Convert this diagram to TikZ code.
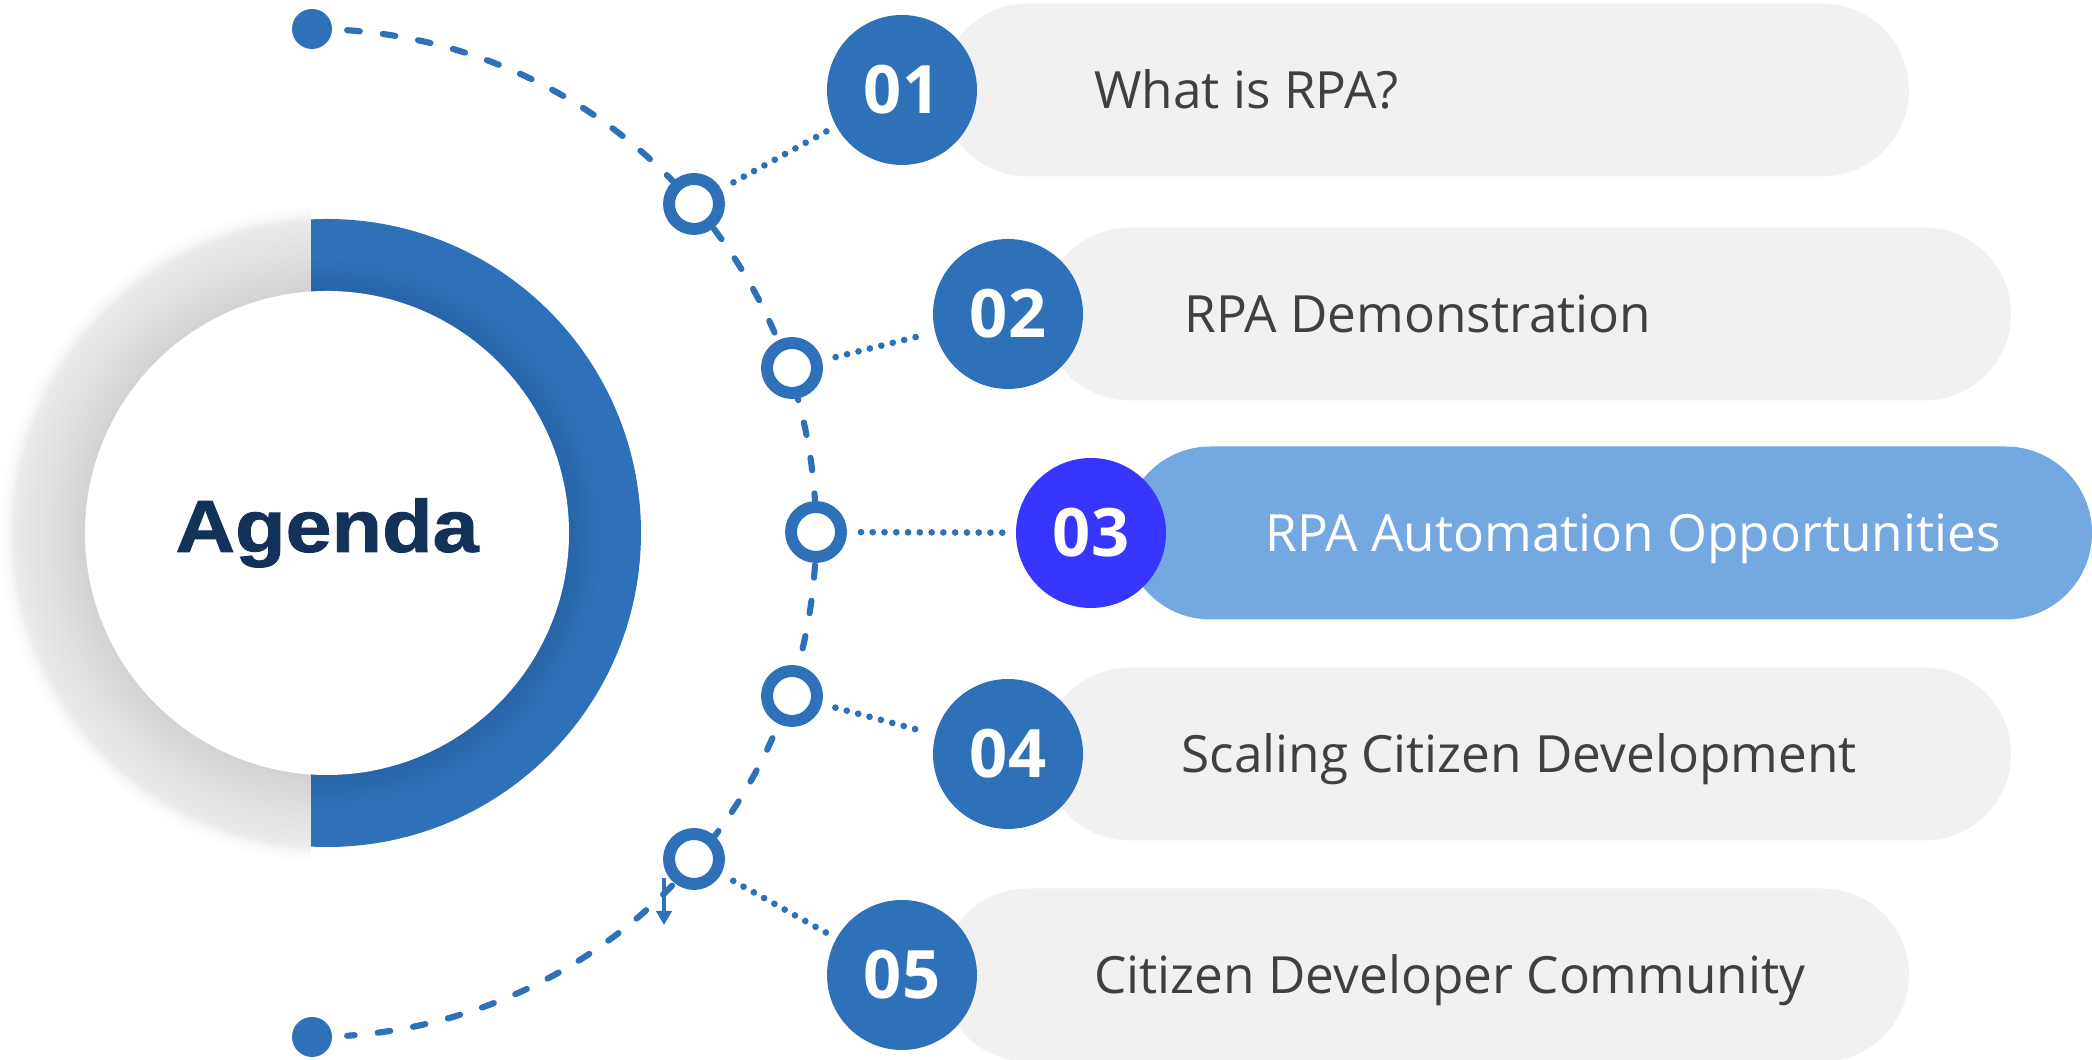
\documentclass[tikz,border=0pt]{standalone}
\usepackage{fontspec}
\setmainfont{Open Sans}
\newfontfamily\headfont[FakeStretch=1.12, BoldFeatures={FakeBold=1.2}]{Liberation Sans}
\usepackage{tikz}
\usetikzlibrary{calc, arrows.meta, positioning}
\definecolor{mainBlue}{HTML}{2E71B8}
\definecolor{deepBlue}{HTML}{2864A8}
\definecolor{hiBlue}{HTML}{3636FF}
\definecolor{paleBlue}{HTML}{74A8E0}
\definecolor{pillGray}{HTML}{F1F1F1}
\definecolor{textGray}{HTML}{404040}
\definecolor{navy}{HTML}{12325A}
\definecolor{shadeDark}{HTML}{D2D2D2}
\definecolor{shadeLight}{HTML}{EBEBEB}
\definecolor{shadeFaint}{HTML}{F8F8F8}

% shadings fit the path box into their middle 50bp square
\pgfdeclareradialshading{ringgray}{\pgfpoint{0bp}{0bp}}{color(0bp)=(shadeDark); color(18.3bp)=(shadeDark); color(23.7bp)=(shadeLight); color(24.2bp)=(shadeFaint); color(25bp)=(white); color(50bp)=(white)}
\pgfdeclareradialshading{ringblue}{\pgfpoint{0bp}{0bp}}{color(0bp)=(deepBlue); color(19.3bp)=(deepBlue); color(22bp)=(mainBlue); color(25bp)=(mainBlue); color(50bp)=(mainBlue)}

\begin{document}
\begin{tikzpicture}[>=Stealth,
    ring/.style={circle, draw=mainBlue, line width=3.4pt, fill=white, minimum size=0.5cm, inner sep=0pt},
    num/.style={circle, fill=mainBlue, minimum size=1.5cm, inner sep=0pt, text=white, font=\fontsize{19}{19}\selectfont\bfseries, text height=13.6pt, text depth=0pt},
    pill/.style={rectangle, rounded corners=0.865cm, minimum width=9.68cm, minimum height=1.73cm, inner sep=0pt, fill=pillGray},
    itemtext/.style={inner sep=0pt, text=textGray, font=\fontsize{14.6}{14.6}\selectfont, text height=10.4pt, text depth=0pt},
    dashline/.style={mainBlue, line width=1.75pt, line cap=round, dash pattern=on 3.6pt off 6.6pt},
    dotline/.style={mainBlue, line width=1.9pt, line cap=round, dash pattern=on 0pt off 3.35pt, shorten <=0.14cm, shorten >=0.1cm},
    enddot/.style={circle, fill=mainBlue, minimum size=0.4cm, inner sep=0pt}]
    \useasboundingbox (0,0) rectangle (20.92,10.6);

    % big ring with the title
    \coordinate (C) at (3.27,5.27);
    \begin{scope}
        \clip (0,0) rectangle (3.11,10.6);
        \shade[shading=ringgray] (C) circle (3.30);
    \end{scope}
    \begin{scope}
        \clip (3.11,0) rectangle (7,10.6);
        \shade[shading=ringblue] (C) circle (3.14);
    \end{scope}
    \fill[white] (C) circle (2.42);
    \node[text=navy, font=\headfont\fontsize{21}{21}\selectfont\bfseries] (agenda) at (C) {Agenda};

    % pills
    \node[pill] (p1) at (14.25,9.70) {};
    \node[pill] (p2) at (15.27,7.46) {};
    \node[pill, fill=paleBlue] (p3) at (16.08,5.27) {};
    \node[pill] (p4) at (15.27,3.06) {};
    \node[pill] (p5) at (14.25,0.85) {};

    % numbers
    \node[num] (n1) at (9.02,9.70) {01};
    \node[num] (n2) at (10.08,7.46) {02};
    \node[num, fill=hiBlue] (n3) at (10.91,5.27) {03};
    \node[num] (n4) at (10.08,3.06) {04};
    \node[num] (n5) at (9.02,0.85) {05};

    \node[itemtext, right=1.16cm of n1] (t1) {What is RPA?};
    \node[itemtext, right=1.0cm of n2] (t2) {RPA Demonstration};
    \node[itemtext, text=white, right=0.98cm of n3] (t3) {RPA Automation Opportunities};
    \node[itemtext, right=0.97cm of n4] (t4) {Scaling Citizen Development};
    \node[itemtext, right=1.16cm of n5] (t5) {Citizen Developer Community};

    % dashed arc between the two end dots
    \coordinate (hub) at (3.12,5.27);
    \node[enddot] (top) at ($(hub)+(90:5.04)$) {};
    \node[enddot] (bottom) at ($(hub)+(-90:5.04)$) {};
    \draw[dashline] ($(hub)+(86:5.04)$) arc[start angle=86, end angle=-86, radius=5.04];

    \coordinate (tail) at (6.64,1.82);
    \coordinate (tip) at (6.64,1.35);
    \draw[mainBlue, line width=0.9pt, -{Triangle[length=4pt,width=4.4pt]}] (tail) -- (tip);

    % rings on the arc
    \node[ring] (r1) at (6.94,8.56) {};
    \node[ring] (r2) at (7.92,6.92) {};
    \node[ring] (r3) at (8.16,5.28) {};
    \node[ring] (r4) at (7.92,3.64) {};
    \node[ring] (r5) at (6.94,2.01) {};

    \draw[dotline] (r1) -- (n1);
    \draw[dotline] (r2) -- (n2);
    \draw[dotline] (r3) -- (n3);
    \draw[dotline] (r4) -- (n4);
    \draw[dotline] (r5) -- (n5);
\end{tikzpicture}
\end{document}
